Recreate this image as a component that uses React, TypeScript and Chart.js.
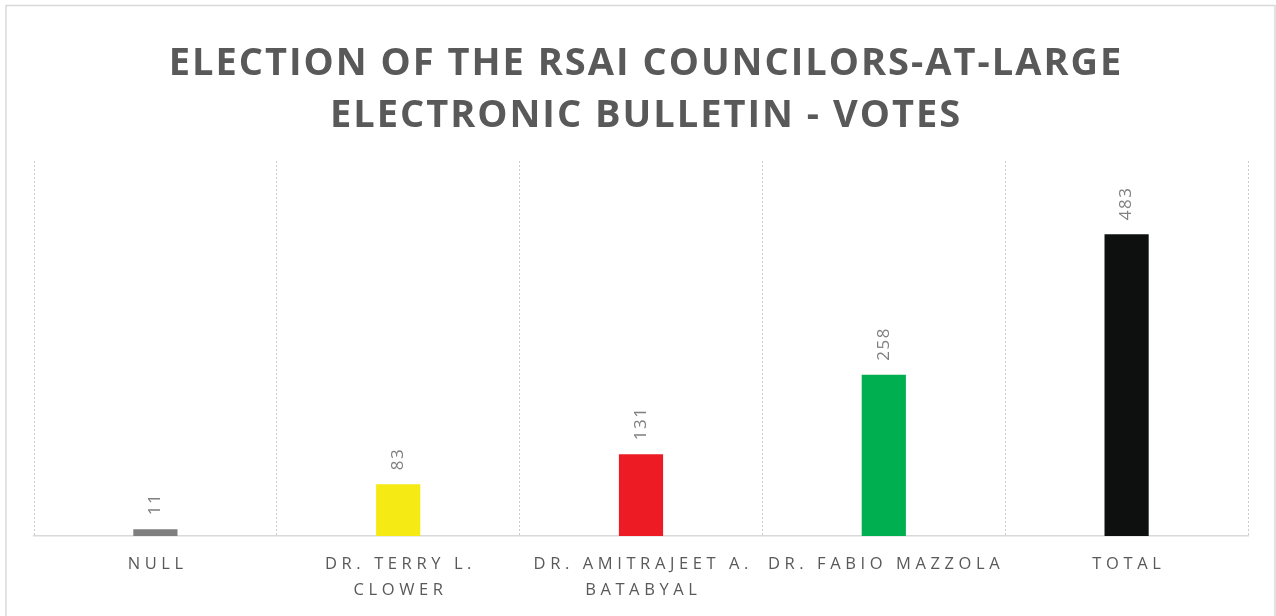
import { useEffect, useRef } from 'react';
import { Chart, registerables } from 'chart.js';

Chart.register(...registerables);

const titleLines = ['ELECTION OF THE RSAI COUNCILORS-AT-LARGE', 'ELECTRONIC BULLETIN - VOTES'];
const categories: string[][] = [
  ['NULL'],
  ['DR. TERRY L.', 'CLOWER'],
  ['DR. AMITRAJEET A.', 'BATABYAL'],
  ['DR. FABIO MAZZOLA'],
  ['TOTAL'],
];
const votes = [11, 83, 131, 258, 483];
const barColors = ['#7f7f7f', '#f5ea14', '#ed1c24', '#00b050', '#0e100f'];

const textPlugin = {
  id: 'textPlugin',
  beforeDraw(chart: any) {
    const ctx = chart.ctx as CanvasRenderingContext2D;
    ctx.save();
    ctx.fillStyle = '#ffffff';
    ctx.fillRect(0, 0, chart.width, chart.height);
    ctx.strokeStyle = '#d9d9d9';
    ctx.lineWidth = 1.5;
    ctx.strokeRect(6, 5.5, chart.width - 7, chart.height + 10);
    ctx.restore();
  },
  afterDraw(chart: any) {
    const ctx = chart.ctx as any;
    const area = chart.chartArea;
    const xScale = chart.scales.x;
    ctx.save();
    // title
    ctx.fillStyle = '#595959';
    ctx.font = 'bold 38px "Open Sans"';
    ctx.letterSpacing = '2px';
    ctx.textAlign = 'center';
    ctx.textBaseline = 'middle';
    titleLines.forEach((line, i) => ctx.fillText(line, 646, 64 + i * 52));
    // category labels
    ctx.font = '16.5px "Open Sans"';
    ctx.letterSpacing = '4.6px';
    ctx.fillStyle = '#595959';
    categories.forEach((lines, i) => {
      const x = xScale.getPixelForValue(i);
      lines.forEach((l, j) => ctx.fillText(l, x + 2.3, area.bottom + 28 + j * 26));
    });
    // data labels
    const meta = chart.getDatasetMeta(0);
    ctx.font = '17px "Open Sans"';
    ctx.letterSpacing = '1.5px';
    ctx.fillStyle = '#808080';
    meta.data.forEach((bar: any, i: number) => {
      ctx.save();
      ctx.translate(bar.x, bar.y - 14);
      ctx.rotate(-Math.PI / 2);
      ctx.textAlign = 'left';
      ctx.textBaseline = 'middle';
      ctx.fillText(String(votes[i]), 0, 0);
      ctx.restore();
    });
    ctx.restore();
  },
};

export default function App() {
  const ref = useRef<HTMLCanvasElement>(null);
  useEffect(() => {
    if (!ref.current) return;
    const chart = new Chart(ref.current, {
      type: 'bar',
      data: {
        labels: categories.map((c) => c.join(' ')),
        datasets: [
          {
            data: votes,
            backgroundColor: barColors,
            borderWidth: 0,
            categoryPercentage: 1,
            barPercentage: 0.182,
          },
        ],
      },
      options: {
        animation: false,
        responsive: true,
        maintainAspectRatio: false,
        layout: { padding: { top: 161, left: 34, right: 28, bottom: 80 } },
        plugins: { legend: { display: false }, tooltip: { enabled: false }, title: { display: false } },
        scales: {
          x: {
            ticks: { display: false },
            grid: { color: '#cccccc', lineWidth: 1, drawTicks: false, offset: true },
            border: { color: '#d9d9d9', width: 1.5, dash: [2, 2] },
          },
          y: { display: false, min: 0, max: 600 },
        },
      },
      plugins: [textPlugin],
    });
    return () => chart.destroy();
  }, []);
  return (
    <div style={{ position: 'fixed', left: 0, top: 0, width: 1276, height: 616, background: '#fff' }}>
      <canvas ref={ref} />
    </div>
  );
}
